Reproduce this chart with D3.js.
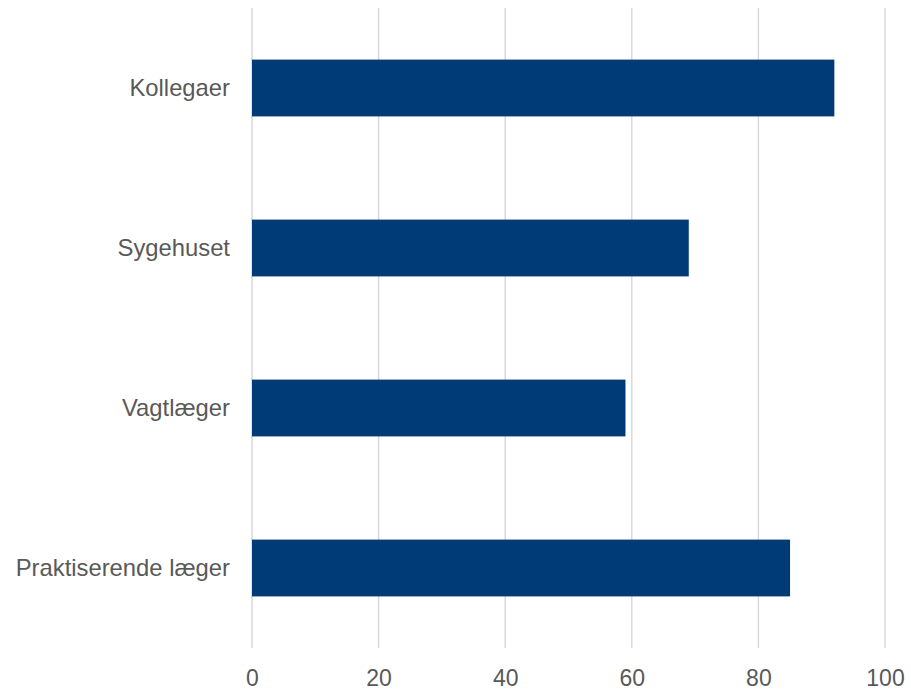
<!DOCTYPE html>
<html>
<head>
<meta charset="utf-8">
<script src="https://cdn.jsdelivr.net/npm/d3@7"></script>
<style>
  html, body { margin: 0; padding: 0; background: #fff; overflow: hidden; }
  svg { display: block; }
</style>
</head>
<body>
<svg id="chart" width="911" height="692"></svg>
<script>
const categories = ["Kollegaer", "Sygehuset", "Vagtlæger", "Praktiserende læger"];
const values = [92, 69, 59, 85];
const xTicks = [0, 20, 40, 60, 80, 100];

const svg = d3.select("#chart");
const margin = { left: 252, right: 26, top: 8, bottom: 44 };
const W = 911, H = 692;

const x = d3.scaleLinear().domain([0, 100]).range([margin.left, W - margin.right]);
const y = d3.scaleBand().domain(categories).range([margin.top, H - margin.bottom]).paddingInner(0.645).paddingOuter(0.3225);

// gridlines
svg.append("g")
  .selectAll("line")
  .data(xTicks)
  .join("line")
  .attr("x1", d => x(d)).attr("x2", d => x(d))
  .attr("y1", margin.top).attr("y2", H - margin.bottom)
  .attr("stroke", "#d9d9d9")
  .attr("stroke-width", 1.5);

// bars
svg.append("g")
  .selectAll("rect")
  .data(categories)
  .join("rect")
  .attr("x", x(0))
  .attr("y", d => y(d))
  .attr("width", (d, i) => x(values[i]) - x(0))
  .attr("height", y.bandwidth())
  .attr("fill", "#003b78");

// x tick labels
const xAxis = d3.axisBottom(x).tickValues(xTicks).tickSize(0).tickPadding(0);
const gx = svg.append("g")
  .attr("transform", `translate(0, ${H - margin.bottom})`)
  .call(xAxis);
gx.select(".domain").remove();
gx.selectAll("text")
  .attr("y", 0)
  .attr("dy", null)
  .attr("transform", "translate(0, 38)")
  .attr("fill", "#595959")
  .style("font-family", "Liberation Sans, Arial, sans-serif")
  .style("font-size", "23px");

// y labels
const yAxis = d3.axisLeft(y).tickSize(0).tickPadding(22);
const gy = svg.append("g")
  .attr("transform", `translate(${margin.left}, 0)`)
  .call(yAxis);
gy.select(".domain").remove();
gy.selectAll("text")
  .attr("fill", "#595959")
  .style("font-family", "Liberation Sans, Arial, sans-serif")
  .style("font-size", "23.8px");
</script>
</body>
</html>
